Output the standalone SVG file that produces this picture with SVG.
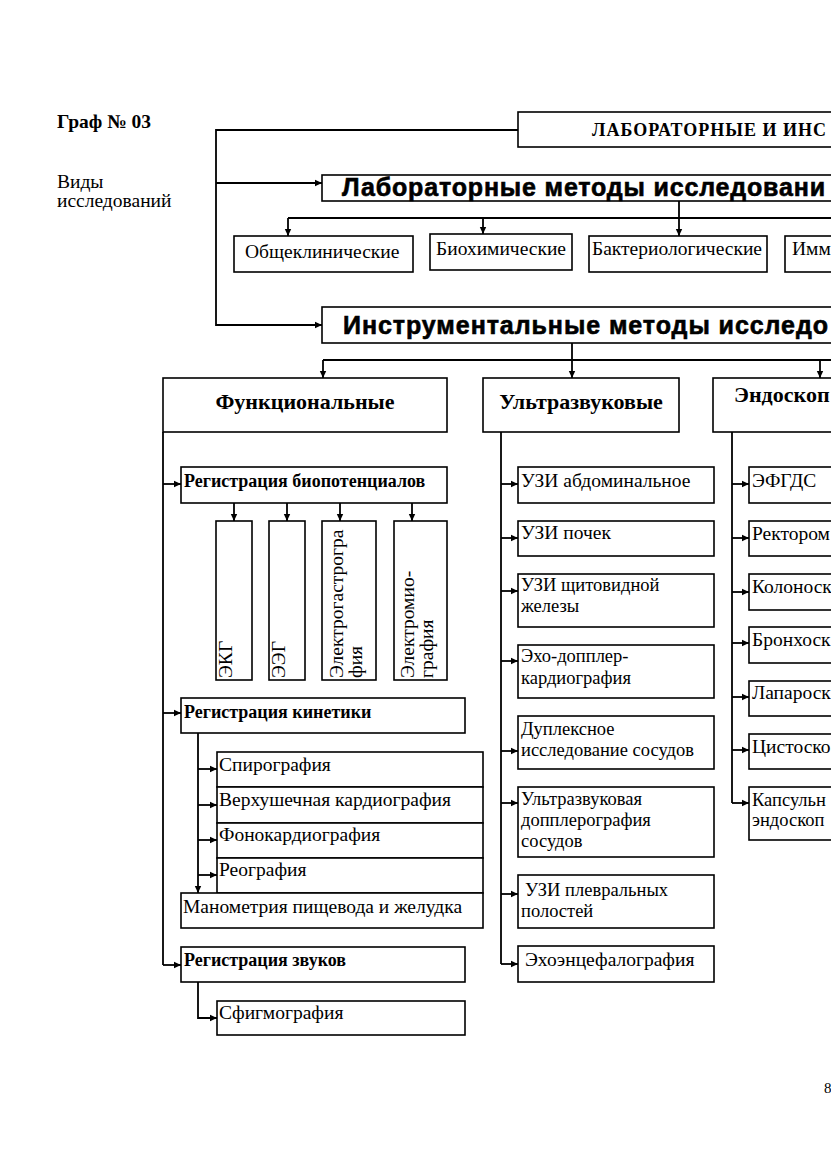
<svg xmlns="http://www.w3.org/2000/svg" width="831" height="1174" viewBox="0 0 831 1174">
<defs>
<marker id="arr" markerUnits="userSpaceOnUse" markerWidth="8" markerHeight="8" refX="7" refY="4" orient="auto">
<path d="M0,0.8 L7,4 L0,7.2 z" fill="#000"/>
</marker>
<style>
.bx{fill:#fff;stroke:#000;stroke-width:1.6}
.ln{fill:none;stroke:#000;stroke-width:1.8}
.ar{fill:none;stroke:#000;stroke-width:1.8;marker-end:url(#arr)}
.t{font-family:"Liberation Serif","Times New Roman",serif;font-size:19.5px;fill:#000}
.tm{font-family:"Liberation Serif","Times New Roman",serif;font-size:18.5px;fill:#000}
.tb{font-family:"Liberation Serif","Times New Roman",serif;font-size:18px;font-weight:bold;fill:#000}
.th{font-family:"Liberation Serif","Times New Roman",serif;font-size:22px;font-weight:bold;fill:#000}
.big{font-family:"Liberation Sans",Arial,sans-serif;font-size:25px;font-weight:bold;fill:#000;stroke:#000;stroke-width:0.6}
</style>
</defs>
<rect width="831" height="1174" fill="#fff"/>

<text class="tb" x="57" y="128" style="font-size:19.5px">Граф № 03</text>
<text class="t" x="57" y="188"><tspan x="57" y="188">Виды</tspan><tspan x="57" y="207">исследований</tspan></text>

<g id="connectors">
<path class="ar" d="M518,130 H216 V325 H322"/>
<path class="ar" d="M216,183 H322"/>
<path class="ln" d="M679,201 V218 M288,218 H831"/>
<path class="ar" d="M288,218 V236"/>
<path class="ar" d="M483,218 V234"/>
<path class="ar" d="M679,218 V236"/>
<path class="ln" d="M572,343 V360 M323,360 H831"/>
<path class="ar" d="M323,360 V378"/>
<path class="ar" d="M572,360 V378"/>
<path class="ar" d="M820,360 V378"/>
<path class="ln" d="M163,432 V965"/>
<path class="ar" d="M163,484 H181"/>
<path class="ar" d="M163,713 H181"/>
<path class="ar" d="M163,965 H181"/>
<path class="ar" d="M234,503 V521"/>
<path class="ar" d="M287,503 V521"/>
<path class="ar" d="M340,503 V521"/>
<path class="ar" d="M412,503 V521"/>
<path class="ar" d="M198,733 V893"/>
<path class="ar" d="M198,769 H217"/>
<path class="ar" d="M198,805 H217"/>
<path class="ar" d="M198,840 H217"/>
<path class="ar" d="M198,875 H217"/>
<path class="ar" d="M198,982 V1018 H217"/>
<path class="ln" d="M501,432 V964"/>
<path class="ar" d="M501,484 H518"/>
<path class="ar" d="M501,538 H518"/>
<path class="ar" d="M501,591 H518"/>
<path class="ar" d="M501,661 H518"/>
<path class="ar" d="M501,751 H518"/>
<path class="ar" d="M501,803 H518"/>
<path class="ar" d="M501,894 H518"/>
<path class="ar" d="M501,964 H518"/>
<path class="ln" d="M732,432 V803"/>
<path class="ar" d="M732,484 H749"/>
<path class="ar" d="M732,538 H749"/>
<path class="ar" d="M732,592 H749"/>
<path class="ar" d="M732,643 H749"/>
<path class="ar" d="M732,697 H749"/>
<path class="ar" d="M732,750 H749"/>
<path class="ar" d="M732,803 H749"/>
</g>

<g id="n-top"><rect class="bx" x="518" y="112" width="330" height="35"/><text class="tb" x="592" y="136" textLength="234" lengthAdjust="spacing">ЛАБОРАТОРНЫЕ И ИНС</text></g>
<g id="n-lab"><rect class="bx" x="322" y="175" width="530" height="26"/><text class="big" x="342" y="196" textLength="483" lengthAdjust="spacing">Лабораторные методы исследовани</text></g>
<g id="n-obsh"><rect class="bx" x="234" y="236" width="179" height="36"/><text class="t" x="245" y="258">Общеклинические</text></g>
<g id="n-bio"><rect class="bx" x="430" y="234" width="142" height="36"/><text class="t" x="436" y="255">Биохимические</text></g>
<g id="n-bakt"><rect class="bx" x="589" y="236" width="178" height="36"/><text class="t" x="592" y="255">Бактериологические</text></g>
<g id="n-imm"><rect class="bx" x="785" y="236" width="60" height="36"/><text class="t" x="792" y="255">Имм</text></g>
<g id="n-instr"><rect class="bx" x="322" y="307" width="530" height="36"/><text class="big" x="343" y="334" textLength="485" lengthAdjust="spacing">Инструментальные методы исследо</text></g>

<g id="n-func"><rect class="bx" x="163" y="378" width="284" height="54"/><text class="th" x="305" y="409" text-anchor="middle">Функциональные</text></g>
<g id="n-us"><rect class="bx" x="483" y="378" width="196" height="54"/><text class="th" x="581" y="409" text-anchor="middle">Ультразвуковые</text></g>
<g id="n-endo"><rect class="bx" x="713" y="378" width="140" height="54"/><text class="th" x="734" y="402">Эндоскоп</text></g>

<g id="n-biopot"><rect class="bx" x="181" y="467" width="266" height="36"/><text class="tb" x="184" y="487">Регистрация биопотенциалов</text></g>
<g id="n-ekg"><rect class="bx" x="216" y="521" width="36" height="159"/><text class="t" transform="translate(232,678) rotate(-90)">ЭКГ</text></g>
<g id="n-eeg"><rect class="bx" x="269" y="521" width="36" height="159"/><text class="t" transform="translate(285,678) rotate(-90)">ЭЭГ</text></g>
<g id="n-egg"><rect class="bx" x="322" y="521" width="54" height="159"/><text class="t" transform="translate(343,678) rotate(-90)"><tspan x="0" y="0">Электрогастрогра</tspan><tspan x="0" y="19">фия</tspan></text></g>
<g id="n-emg"><rect class="bx" x="394" y="521" width="53" height="159"/><text class="t" transform="translate(414,678) rotate(-90)"><tspan x="0" y="0">Электромио-</tspan><tspan x="0" y="19">графия</tspan></text></g>

<g id="n-kin"><rect class="bx" x="181" y="698" width="284" height="35"/><text class="tb" x="184" y="718">Регистрация кинетики</text></g>
<g id="n-spiro"><rect class="bx" x="217" y="752" width="266" height="35"/><text class="t" x="219" y="771">Спирография</text></g>
<g id="n-verh"><rect class="bx" x="217" y="787" width="266" height="36"/><text class="t" x="219" y="806">Верхушечная кардиография</text></g>
<g id="n-fono"><rect class="bx" x="217" y="823" width="266" height="35"/><text class="t" x="219" y="841">Фонокардиография</text></g>
<g id="n-reo"><rect class="bx" x="217" y="858" width="266" height="35"/><text class="t" x="219" y="876">Реография</text></g>
<g id="n-mano"><rect class="bx" x="181" y="893" width="302" height="35"/><text class="t" x="183" y="913">Манометрия пищевода и желудка</text></g>

<g id="n-zvuk"><rect class="bx" x="181" y="947" width="284" height="35"/><text class="tb" x="184" y="966">Регистрация звуков</text></g>
<g id="n-sfig"><rect class="bx" x="217" y="1001" width="248" height="34"/><text class="t" x="219" y="1019">Сфигмография</text></g>

<g id="n-us1"><rect class="bx" x="518" y="467" width="196" height="36"/><text class="t" x="521" y="487">УЗИ абдоминальное</text></g>
<g id="n-us2"><rect class="bx" x="518" y="521" width="196" height="35"/><text class="t" x="521" y="539">УЗИ почек</text></g>
<g id="n-us3"><rect class="bx" x="518" y="574" width="196" height="53"/><text class="tm"><tspan x="521" y="591">УЗИ щитовидной</tspan><tspan x="521" y="612">железы</tspan></text></g>
<g id="n-us4"><rect class="bx" x="518" y="645" width="196" height="53"/><text class="tm"><tspan x="521" y="662">Эхо-допплер-</tspan><tspan x="521" y="684">кардиография</tspan></text></g>
<g id="n-us5"><rect class="bx" x="518" y="716" width="196" height="53"/><text class="tm"><tspan x="521" y="735">Дуплексное</tspan><tspan x="521" y="756">исследование сосудов</tspan></text></g>
<g id="n-us6"><rect class="bx" x="518" y="787" width="196" height="70"/><text class="tm"><tspan x="521" y="805">Ультразвуковая</tspan><tspan x="521" y="826">допплерография</tspan><tspan x="521" y="847">сосудов</tspan></text></g>
<g id="n-us7"><rect class="bx" x="518" y="875" width="196" height="53"/><text class="tm"><tspan x="525" y="896">УЗИ плевральных</tspan><tspan x="521" y="917">полостей</tspan></text></g>
<g id="n-us8"><rect class="bx" x="518" y="946" width="196" height="36"/><text class="t" x="525" y="966">Эхоэнцефалография</text></g>

<g id="n-en1"><rect class="bx" x="749" y="467" width="100" height="36"/><text class="t" x="752" y="487">ЭФГДС</text></g>
<g id="n-en2"><rect class="bx" x="749" y="521" width="100" height="35"/><text class="t" x="752" y="540">Ректором</text></g>
<g id="n-en3"><rect class="bx" x="749" y="574" width="100" height="36"/><text class="t" x="752" y="593">Колоноск</text></g>
<g id="n-en4"><rect class="bx" x="749" y="627" width="100" height="36"/><text class="t" x="752" y="646">Бронхоск</text></g>
<g id="n-en5"><rect class="bx" x="749" y="681" width="100" height="35"/><text class="t" x="752" y="699">Лапароск</text></g>
<g id="n-en6"><rect class="bx" x="749" y="734" width="100" height="35"/><text class="t" x="752" y="753">Цистоско</text></g>
<g id="n-en7"><rect class="bx" x="749" y="787" width="100" height="53"/><text class="tm"><tspan x="752" y="806">Капсульн</tspan><tspan x="752" y="826">эндоскоп</tspan></text></g>

<text class="t" x="824" y="1093" style="font-size:15px">8</text>
</svg>
